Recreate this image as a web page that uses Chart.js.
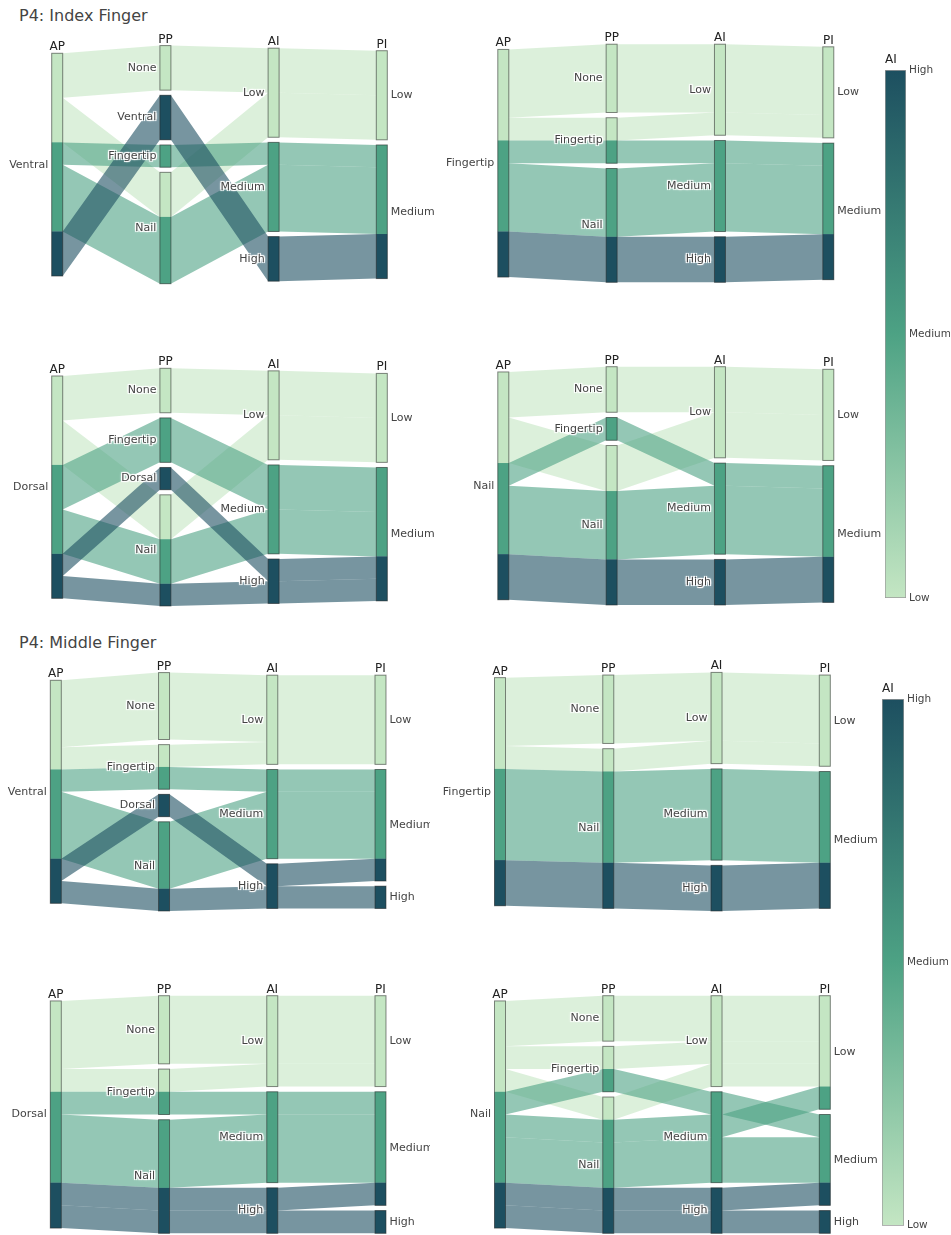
<!DOCTYPE html>
<html>
<head>
<meta charset="utf-8">
<title>P4 parallel categories</title>
<script src="https://cdn.jsdelivr.net/npm/chart.js@4.4.1/dist/chart.umd.min.js"></script>
<style>
  html, body { margin: 0; padding: 0; background: #fff; }
  #page { position: relative; width: 951px; height: 1235px; overflow: hidden;
          font-family: "DejaVu Sans", Verdana, sans-serif; }
  .title { position: absolute; left: 19px; font-size: 16px; line-height: 19px; color: #444; white-space: nowrap; }
  canvas { position: absolute; }
</style>
</head>
<body>
<div id="page">
  <div class="title" style="top:6px">P4: Index Finger</div>
  <div class="title" style="top:633px">P4: Middle Finger</div>
</div>
<script>
// ---------- data ----------
const dimNames = ['AP', 'PP', 'AI', 'PI'];
const aiLevels = ['Low', 'Medium', 'High'];
const piLevels = ['Low', 'Medium', 'High'];

// Each row: [PP, AI, PI, count] for one AP region
const indexVentralPP = ['None', 'Ventral', 'Fingertip', 'Nail'];
const indexVentral = [
  ['None', 'Low', 'Low', 2],
  ['Nail', 'Low', 'Low', 2],
  ['Fingertip', 'Medium', 'Medium', 1],
  ['Nail', 'Medium', 'Medium', 3],
  ['Ventral', 'High', 'Medium', 2]
];

const indexFingertipPP = ['None', 'Fingertip', 'Nail'];
const indexFingertip = [
  ['None', 'Low', 'Low', 3],
  ['Fingertip', 'Low', 'Low', 1],
  ['Fingertip', 'Medium', 'Medium', 1],
  ['Nail', 'Medium', 'Medium', 3],
  ['Nail', 'High', 'Medium', 2]
];

const indexDorsalPP = ['None', 'Fingertip', 'Dorsal', 'Nail'];
const indexDorsal = [
  ['None', 'Low', 'Low', 2],
  ['Nail', 'Low', 'Low', 2],
  ['Fingertip', 'Medium', 'Medium', 2],
  ['Nail', 'Medium', 'Medium', 2],
  ['Dorsal', 'High', 'Medium', 1],
  ['Nail', 'High', 'Medium', 1]
];

const indexNailPP = ['None', 'Fingertip', 'Nail'];
const indexNail = [
  ['None', 'Low', 'Low', 2],
  ['Nail', 'Low', 'Low', 2],
  ['Fingertip', 'Medium', 'Medium', 1],
  ['Nail', 'Medium', 'Medium', 3],
  ['Nail', 'High', 'Medium', 2]
];

const middleVentralPP = ['None', 'Fingertip', 'Dorsal', 'Nail'];
const middleVentral = [
  ['None', 'Low', 'Low', 3],
  ['Fingertip', 'Low', 'Low', 1],
  ['Fingertip', 'Medium', 'Medium', 1],
  ['Nail', 'Medium', 'Medium', 3],
  ['Dorsal', 'High', 'Medium', 1],
  ['Nail', 'High', 'High', 1]
];

const middleFingertipPP = ['None', 'Nail'];
const middleFingertip = [
  ['None', 'Low', 'Low', 3],
  ['Nail', 'Low', 'Low', 1],
  ['Nail', 'Medium', 'Medium', 4],
  ['Nail', 'High', 'Medium', 2]
];

const middleDorsalPP = ['None', 'Fingertip', 'Nail'];
const middleDorsal = [
  ['None', 'Low', 'Low', 3],
  ['Fingertip', 'Low', 'Low', 1],
  ['Fingertip', 'Medium', 'Medium', 1],
  ['Nail', 'Medium', 'Medium', 3],
  ['Nail', 'High', 'Medium', 1],
  ['Nail', 'High', 'High', 1]
];

const middleNailPP = ['None', 'Fingertip', 'Nail'];
const middleNail = [
  ['None', 'Low', 'Low', 2],
  ['Fingertip', 'Low', 'Low', 1],
  ['Nail', 'Low', 'Low', 1],
  ['Fingertip', 'Medium', 'Medium', 1],
  ['Nail', 'Medium', 'Low', 1],
  ['Nail', 'Medium', 'Medium', 2],
  ['Nail', 'High', 'Medium', 1],
  ['Nail', 'High', 'High', 1]
];

// ---------- styling ----------
const FONT = '"DejaVu Sans", Verdana, sans-serif';
const aiColours = ['#c4e6c3', '#4da284', '#1d4f60'];
const RIBBON_ALPHA = 0.6;
const BAR_W = 11;          // px width of a category bar
const GAP_SHARE = 0.023;   // gap between categories, as a share of the total count

// Panel placement: canvas box and where the first / last axis and the tallest column sit
const panelFrames = [
  { left: 0,   top: 15,  width: 440, height: 275, x0: 57.2,  x3: 381.8, yTop: 45.6,  yBot: 283.7 },
  { left: 437, top: 14,  width: 448, height: 275, x0: 503.3, x3: 828.3, yTop: 44.2,  yBot: 282.3 },
  { left: 0,   top: 338, width: 440, height: 275, x0: 57.2,  x3: 381.8, yTop: 368.3, yBot: 606.0 },
  { left: 437, top: 337, width: 448, height: 275, x0: 503.3, x3: 828.3, yTop: 366.7, yBot: 605.0 },
  { left: 0,   top: 643, width: 430, height: 275, x0: 55.8,  x3: 380.5, yTop: 672.6, yBot: 911.0 },
  { left: 437, top: 643, width: 448, height: 275, x0: 500.0, x3: 824.8, yTop: 672.4, yBot: 911.0 },
  { left: 0,   top: 966, width: 430, height: 269, x0: 55.8,  x3: 380.5, yTop: 995.7, yBot: 1233.3 },
  { left: 437, top: 966, width: 448, height: 269, x0: 500.0, x3: 824.8, yTop: 995.7, yBot: 1233.3 }
];

const panels = [
  { ap: 'Ventral',   pp: indexVentralPP,    rows: indexVentral },
  { ap: 'Fingertip', pp: indexFingertipPP,  rows: indexFingertip },
  { ap: 'Dorsal',    pp: indexDorsalPP,     rows: indexDorsal },
  { ap: 'Nail',      pp: indexNailPP,       rows: indexNail },
  { ap: 'Ventral',   pp: middleVentralPP,   rows: middleVentral },
  { ap: 'Fingertip', pp: middleFingertipPP, rows: middleFingertip },
  { ap: 'Dorsal',    pp: middleDorsalPP,    rows: middleDorsal },
  { ap: 'Nail',      pp: middleNailPP,      rows: middleNail }
];

function rgba(hex, a) {
  const n = parseInt(hex.slice(1), 16);
  return `rgba(${(n >> 16) & 255},${(n >> 8) & 255},${n & 255},${a})`;
}

// Stack the paths in every column: categories top to bottom, and inside a
// category the paths are bundled by AI colour, then ordered by the columns.
function buildLayout(apName, ppOrder, rows) {
  const paths = rows.map(r => ({ cats: [apName, r[0], r[1], r[2]], colour: aiLevels.indexOf(r[1]), n: r[3], y: [] }));
  const present = (list, d) => list.filter(c => paths.some(p => p.cats[d] === c));
  const orders = [[apName], present(ppOrder, 1), present(aiLevels, 2), present(piLevels, 3)];
  const total = paths.reduce((s, p) => s + p.n, 0);
  const gap = total * GAP_SHARE;
  const maxCats = Math.max(...orders.map(o => o.length));
  const yMax = total + gap * (maxCats - 1);
  const key = p => [p.colour, ...p.cats.map((c, k) => orders[k].indexOf(c))];
  const cmp = (a, b) => {
    const ka = key(a), kb = key(b);
    for (let i = 0; i < ka.length; i++) if (ka[i] !== kb[i]) return ka[i] - kb[i];
    return 0;
  };
  const dims = orders.map((order, d) => {
    let pos = (yMax - (total + gap * (order.length - 1))) / 2;
    const cats = order.map(name => {
      const members = paths.filter(p => p.cats[d] === name).sort(cmp);
      const y0 = pos;
      const segments = [];
      members.forEach(p => {
        p.y[d] = pos;
        const last = segments[segments.length - 1];
        if (last && last.colour === p.colour) last.y1 = pos + p.n;
        else segments.push({ colour: p.colour, y0: pos, y1: pos + p.n });
        pos += p.n;
      });
      const cat = { name, y0, y1: pos, segments };
      pos += gap;
      return cat;
    });
    return { name: dimNames[d], cats };
  });
  return { paths: paths.slice().sort(cmp), dims, yMax };
}

function haloText(ctx, text, x, y, colour) {
  ctx.save();
  ctx.fillStyle = 'rgba(255,255,255,0.9)';
  ctx.shadowColor = '#fff';
  ctx.shadowBlur = 1.5;
  [[-1, -1], [1, 1], [1, -1], [-1, 1]].forEach(([dx, dy]) => ctx.fillText(text, x + dx, y + dy));
  ctx.restore();
  ctx.fillStyle = colour;
  ctx.fillText(text, x, y);
}

// Draws ribbons, category bars and labels through the chart's x/y scales
function parcatsDrawer(layout) {
  return {
    id: 'parcats',
    afterDatasetsDraw(chart) {
      const ctx = chart.ctx;
      const xs = chart.scales.x, ys = chart.scales.y;
      const px = d => xs.getPixelForValue(d);
      const py = v => ys.getPixelForValue(v);
      const hw = BAR_W / 2;
      const last = layout.dims.length - 1;
      ctx.save();

      // ribbons
      layout.paths.forEach(p => {
        ctx.beginPath();
        for (let d = 0; d <= last; d++) {
          const y = py(p.y[d]);
          if (d === 0) ctx.moveTo(px(d) - hw, y); else ctx.lineTo(px(d) - hw, y);
          ctx.lineTo(px(d) + hw, y);
        }
        for (let d = last; d >= 0; d--) {
          const y = py(p.y[d] + p.n);
          ctx.lineTo(px(d) + hw, y);
          ctx.lineTo(px(d) - hw, y);
        }
        ctx.closePath();
        ctx.fillStyle = rgba(aiColours[p.colour], RIBBON_ALPHA);
        ctx.fill();
      });

      // category bars
      layout.dims.forEach((dim, d) => {
        const x = px(d) - hw;
        dim.cats.forEach(cat => {
          cat.segments.forEach(s => {
            ctx.fillStyle = aiColours[s.colour];
            ctx.fillRect(x, py(s.y0), BAR_W, py(s.y1) - py(s.y0));
          });
          ctx.strokeStyle = 'rgba(40,40,40,0.55)';
          ctx.lineWidth = 1;
          ctx.strokeRect(x, py(cat.y0), BAR_W, py(cat.y1) - py(cat.y0));
        });
      });

      // labels
      layout.dims.forEach((dim, d) => {
        const cx = px(d);
        ctx.font = `12px ${FONT}`;
        ctx.textAlign = 'center';
        ctx.textBaseline = 'alphabetic';
        ctx.fillStyle = '#222';
        ctx.fillText(dim.name, cx, py(dim.cats[0].y0) - 3);

        ctx.font = `11px ${FONT}`;
        ctx.textBaseline = 'middle';
        dim.cats.forEach(cat => {
          const cy = (py(cat.y0) + py(cat.y1)) / 2;
          if (d === last) {
            ctx.textAlign = 'left';
            haloText(ctx, cat.name, cx + hw + 3.5, cy, '#444');
          } else {
            ctx.textAlign = 'right';
            haloText(ctx, cat.name, cx - hw - 3.5, cy, '#444');
          }
        });
      });
      ctx.restore();
    }
  };
}

const page = document.getElementById('page');

function addCanvas(box) {
  const c = document.createElement('canvas');
  c.width = box.width; c.height = box.height;
  c.style.left = box.left + 'px'; c.style.top = box.top + 'px';
  c.style.width = box.width + 'px'; c.style.height = box.height + 'px';
  page.appendChild(c);
  return c;
}

panels.forEach((panel, i) => {
  const frame = panelFrames[i];
  const layout = buildLayout(panel.ap, panel.pp, panel.rows);
  new Chart(addCanvas(frame), {
    type: 'scatter',
    data: { datasets: [] },
    options: {
      responsive: false,
      animation: false,
      events: [],
      devicePixelRatio: 1,
      layout: { padding: {
        left: frame.x0 - frame.left,
        right: frame.left + frame.width - frame.x3,
        top: frame.yTop - frame.top,
        bottom: frame.top + frame.height - frame.yBot
      } },
      plugins: { legend: { display: false }, tooltip: { enabled: false } },
      scales: {
        x: { type: 'linear', min: 0, max: dimNames.length - 1, display: false },
        y: { type: 'linear', min: 0, max: layout.yMax, reverse: true, display: false }
      }
    },
    plugins: [parcatsDrawer(layout)]
  });
});

// ---------- AI colour bars ----------
const colourBarFrames = [
  { left: 878, top: 40,  width: 73, height: 570, barLeft: 885, barWidth: 21, barTop: 70,  barBottom: 598 },
  { left: 875, top: 669, width: 76, height: 566, barLeft: 882, barWidth: 22, barTop: 699, barBottom: 1227 }
];
const AXIS_W = 44;

const colourBarTitle = {
  id: 'cbTitle',
  afterDraw(chart) {
    const ctx = chart.ctx;
    ctx.save();
    ctx.font = `12px ${FONT}`;
    ctx.fillStyle = '#222';
    ctx.textAlign = 'left';
    ctx.textBaseline = 'alphabetic';
    ctx.fillText('AI', chart.chartArea.left, chart.chartArea.top - 7.5);
    ctx.restore();
  }
};

colourBarFrames.forEach(f => {
  new Chart(addCanvas(f), {
    type: 'bar',
    data: {
      labels: ['AI'],
      datasets: [{
        data: [[0, aiLevels.length - 1]],
        backgroundColor: (c) => {
          const chart = c.chart;
          const ys = chart.scales.y;
          if (!ys || !chart.chartArea) return aiColours[1];
          const g = chart.ctx.createLinearGradient(0, ys.getPixelForValue(0), 0, ys.getPixelForValue(aiLevels.length - 1));
          aiColours.forEach((col, k) => g.addColorStop(k / (aiColours.length - 1), col));
          return g;
        },
        borderColor: '#9a9a9a',
        borderWidth: 1,
        borderSkipped: false,
        barPercentage: 1,
        categoryPercentage: 1
      }]
    },
    options: {
      responsive: false,
      animation: false,
      events: [],
      devicePixelRatio: 1,
      layout: { padding: {
        left: f.barLeft - f.left,
        right: f.width - (f.barLeft - f.left) - f.barWidth - AXIS_W,
        top: f.barTop - f.top,
        bottom: f.top + f.height - f.barBottom
      } },
      plugins: { legend: { display: false }, tooltip: { enabled: false } },
      scales: {
        x: { display: false },
        y: {
          position: 'right',
          min: 0,
          max: aiLevels.length - 1,
          grid: { display: false, drawTicks: false },
          border: { display: false },
          afterFit: s => { s.width = AXIS_W; },
          ticks: {
            stepSize: 1,
            padding: 3,
            color: '#444',
            font: { family: FONT, size: 10.5 },
            callback: v => aiLevels[v]
          }
        }
      }
    },
    plugins: [colourBarTitle]
  });
});
</script>
</body>
</html>
